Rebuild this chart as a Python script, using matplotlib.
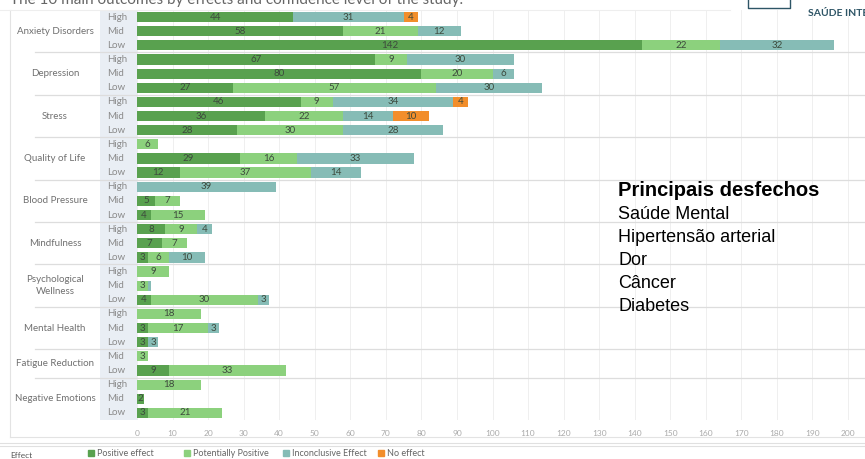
import matplotlib.pyplot as plt
import matplotlib.transforms as mtransforms
from matplotlib.patches import Rectangle

plt.rcParams['font.family'] = ['Lato', 'DejaVu Sans']

# Dados
outcomes = ["Anxiety Disorders", "Depression", "Stress", "Quality of Life",
            "Blood Pressure", "Mindfulness", "Psychological\nWellness",
            "Mental Health", "Fatigue Reduction", "Negative Emotions"]
levels = [["High", "Mid", "Low"]] * 8 + [["Mid", "Low"]] + [["High", "Mid", "Low"]]

positive = [[44, 58, 142], [67, 80, 27], [46, 36, 28], [0, 29, 12], [0, 5, 4],
            [8, 7, 3], [0, 0, 4], [0, 3, 3], [0, 9], [0, 2, 3]]
potential = [[0, 21, 22], [9, 20, 57], [9, 22, 30], [6, 16, 37], [0, 7, 15],
             [9, 7, 6], [9, 3, 30], [18, 17, 0], [3, 33], [18, 0, 21]]
inconclusive = [[31, 12, 32], [30, 6, 30], [34, 14, 28], [0, 33, 14], [39, 0, 0],
                [4, 0, 10], [0, 1, 3], [0, 3, 3], [0, 0], [0, 0, 0]]
no_effect = [[4, 0, 0], [0, 0, 0], [4, 10, 0], [0, 0, 0], [0, 0, 0],
             [0, 0, 0], [0, 0, 0], [0, 0, 0], [0, 0], [0, 0, 0]]

effects = ["Positive effect", "Potentially Positive", "Inconclusive Effect", "No effect"]
colors = ["#59a14f", "#8cd17d", "#86bcb6", "#f28e2b"]

desfechos = ["Saúde Mental", "Hipertensão arterial", "Dor", "Câncer", "Diabetes"]

W, H = 865, 459
fig = plt.figure(figsize=(W / 100, H / 100), dpi=100)


def fx(px):
    return px / W


def fy(py):
    return 1 - py / H


# fundo da coluna de níveis (eixo separado, atrás do gráfico)
bg = fig.add_axes([fx(100), fy(420), fx(37), (420 - 10) / H], zorder=0)
bg.set_facecolor("#e9eef4")
bg.set_xticks([])
bg.set_yticks([])
for s in bg.spines.values():
    s.set_visible(False)

n_rows = sum(len(l) for l in levels)
ax = fig.add_axes([fx(137), fy(420), fx(862 - 137), (420 - 10) / H], zorder=2)
ax.patch.set_alpha(0)
ax.set_xlim(0, (862 - 137) / 3.555)
ax.set_ylim(n_rows - 0.5, -0.5)

trans = mtransforms.blended_transform_factory(fig.transFigure, ax.transData)

row = 0
for g, name in enumerate(outcomes):
    start = row
    for k, lvl in enumerate(levels[g]):
        vals = [positive[g][k], potential[g][k], inconclusive[g][k], no_effect[g][k]]
        left = 0
        for v, c in zip(vals, colors):
            if v > 0:
                ax.barh(row, v, left=left, height=0.72, color=c, zorder=2)
                if v >= 2:
                    ax.text(left + v / 2, row, str(v), ha="center", va="center",
                            fontsize=7, color="#3d4a3d", zorder=3)
            left += v
        ax.text(fx(107), row, lvl, transform=trans, ha="left", va="center",
                fontsize=7, color="#8a8a8a")
        row += 1
    mid = (start + row - 1) / 2
    ax.text(fx(55), mid, name, transform=trans, ha="center", va="center",
            fontsize=7, color="#707070", linespacing=1.5)
    if g < len(outcomes) - 1:
        ax.plot([fx(35), 1], [row - 0.5, row - 0.5], transform=trans,
                color="#dddddd", lw=0.9, clip_on=False, zorder=1)

ax.set_xticks(range(0, 201, 10))
ax.tick_params(axis="x", length=0, pad=7, labelsize=6, labelcolor="#aaaaaa")
ax.set_yticks([])
ax.grid(axis="x", color="#efefef", lw=0.7, zorder=0)
ax.set_axisbelow(True)
for s in ax.spines.values():
    s.set_visible(False)

# moldura e linhas
fig.add_artist(plt.Line2D([fx(10), fx(10)], [fy(10), fy(437)], color="#e3e3e3", lw=0.8))
fig.add_artist(plt.Line2D([fx(10), 1], [fy(437), fy(437)], color="#e3e3e3", lw=0.8))
fig.add_artist(plt.Line2D([0, 1], [fy(443), fy(443)], color="#e0e0e0", lw=0.8))
fig.add_artist(plt.Line2D([0, 1], [fy(446), fy(446)], color="#e0e0e0", lw=0.8))
fig.add_artist(plt.Line2D([0, fx(730)], [fy(10), fy(10)], color="#eeeeee", lw=0.8))

# título (cortado no topo, como no original)
fig.text(fx(10), fy(0), "The 10 main outcomes by effects and confidence level of the study.",
         ha="left", va="center", fontsize=11, color="#666666")

# logo
fig.text(fx(808), fy(14), "SAÚDE INTEGRATIVA", ha="left", va="center",
         fontsize=7.5, fontweight="bold", color="#2e5566")
fig.add_artist(plt.Line2D([fx(748), fx(748), fx(790), fx(790)],
                          [fy(0), fy(8), fy(8), fy(0)], color="#2e5566", lw=1))

# legenda
fig.text(fx(10), fy(455), "Effect", ha="left", va="center", fontsize=6, color="#555555")
leg_x = [88, 184, 283, 378]
for x, lab, c in zip(leg_x, effects, colors):
    fig.patches.append(Rectangle((fx(x), fy(456)), fx(6), 6 / H,
                                 transform=fig.transFigure, color=c))
    fig.text(fx(x + 9), fy(453), lab, ha="left", va="center", fontsize=6.5, color="#666666")

# anotação
fig.text(fx(618), fy(191), "Principais desfechos", ha="left", va="center",
         fontsize=14.5, fontweight="bold", family="Liberation Sans", color="black")
for i, d in enumerate(desfechos):
    fig.text(fx(618), fy(215 + i * 22.8), d, ha="left", va="center",
             fontsize=13, family="Liberation Sans", color="black")

fig.savefig("out.png", dpi=100)
